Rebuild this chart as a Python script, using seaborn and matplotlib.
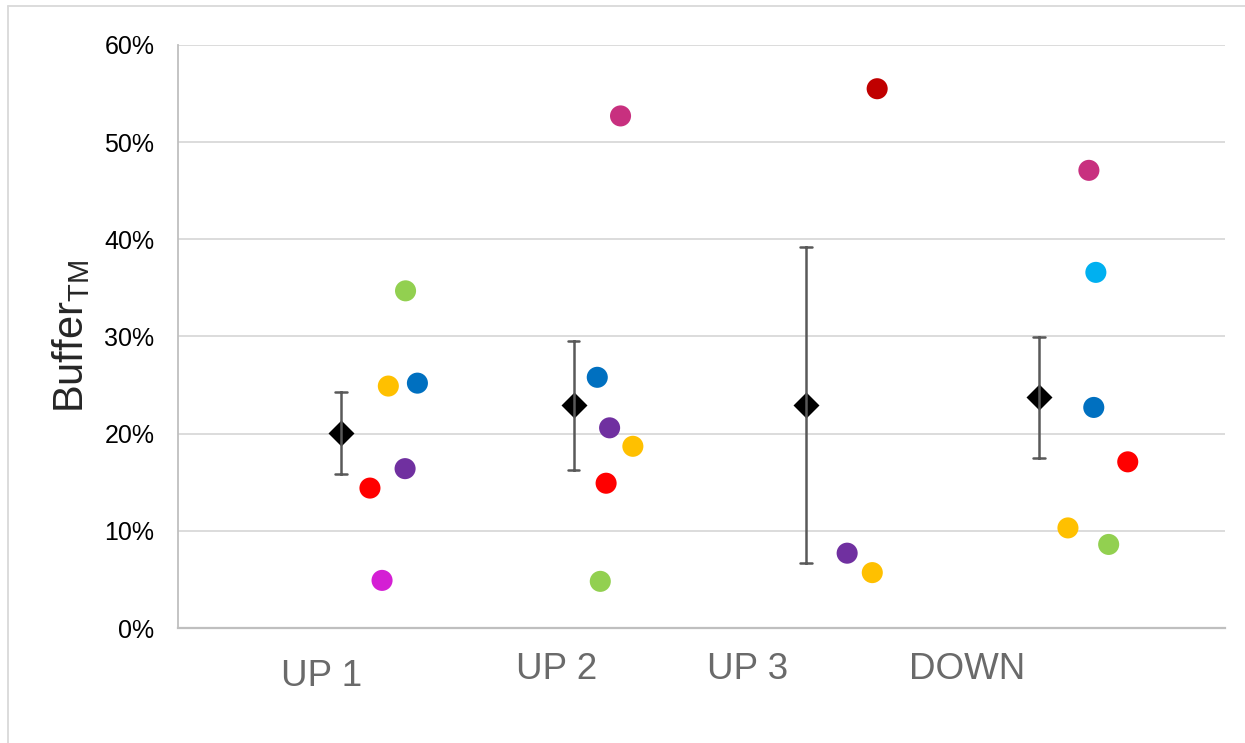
import numpy as np
import pandas as pd
import seaborn as sns
import matplotlib.pyplot as plt
from matplotlib.ticker import PercentFormatter
from matplotlib.lines import Line2D

# groups and their labels
groups = ['UP 1', 'UP 2', 'UP 3', 'DOWN']
group_pos = [1, 2, 3, 4]

# individual points per group (value in %, horizontal offset from group centre, colour name)
up1_vals = [34.7, 24.9, 25.2, 16.4, 14.4, 4.9]
up1_offs = [0.278, 0.204, 0.329, 0.276, 0.125, 0.177]
up1_cols = ['green', 'yellow', 'blue', 'purple', 'red', 'magenta']

up2_vals = [52.7, 25.8, 20.6, 18.7, 14.9, 4.8]
up2_offs = [0.202, 0.102, 0.155, 0.255, 0.140, 0.115]
up2_cols = ['pink', 'blue', 'purple', 'yellow', 'red', 'green']

up3_vals = [55.5, 7.7, 5.7]
up3_offs = [0.305, 0.176, 0.284]
up3_cols = ['darkred', 'purple', 'yellow']

down_vals = [47.1, 36.6, 22.7, 17.1, 10.3, 8.6]
down_offs = [0.215, 0.245, 0.236, 0.382, 0.125, 0.300]
down_cols = ['pink', 'cyan', 'blue', 'red', 'yellow', 'green']

palette = {
    'green': '#92D050', 'yellow': '#FFC000', 'blue': '#0070C0',
    'purple': '#7030A0', 'red': '#FF0000', 'magenta': '#D41FD4',
    'pink': '#C8307F', 'darkred': '#C00000', 'cyan': '#00B0F0',
}

rows = []
for g, p, vals, offs, cols in zip(groups, group_pos,
                                  [up1_vals, up2_vals, up3_vals, down_vals],
                                  [up1_offs, up2_offs, up3_offs, down_offs],
                                  [up1_cols, up2_cols, up3_cols, down_cols]):
    for v, o, c in zip(vals, offs, cols):
        rows.append({'group': g, 'pos': p, 'xpos': p + o, 'value': v, 'color': c})
df = pd.DataFrame(rows)

sns.set_style('white')
plt.rcParams['font.family'] = ['Liberation Sans', 'DejaVu Sans']
plt.rcParams['mathtext.fontset'] = 'custom'
plt.rcParams['mathtext.rm'] = 'Liberation Sans'

fig = plt.figure(figsize=(12.45, 7.43), dpi=100)
ax = fig.add_axes([178 / 1245, 1 - 628 / 743, (1225 - 178) / 1245, (628 - 45) / 743])

ax.set_axisbelow(True)
ax.yaxis.grid(True, color='#D9D9D9', linewidth=1.3)
ax.xaxis.grid(False)

# mean +/- standard error of each group
sns.pointplot(data=df, x='pos', y='value', native_scale=True, errorbar='se',
              color='black', marker='D', linestyle='none', markersize=11,
              capsize=0.05, err_kws={'color': '#595959', 'linewidth': 1.8},
              ax=ax, zorder=3)

sns.scatterplot(data=df, x='xpos', y='value', hue='color', palette=palette,
                s=230, linewidth=0, legend=False, ax=ax, zorder=4)

ax.set_ylim(0, 60)
ax.set_xlim(0.3, 4.8)
ax.set_yticks(np.arange(0, 61, 10))
ax.yaxis.set_major_formatter(PercentFormatter(100, decimals=0))
ax.tick_params(axis='y', length=0, labelsize=18, pad=17, labelcolor='#000000')
ax.set_xticks([])
ax.set_xlabel('')
ax.set_ylabel('Buffer$_\\mathregular{TM}$', fontsize=30, labelpad=9)

for s in ['top', 'right']:
    ax.spines[s].set_visible(False)
ax.spines['left'].set_color('#BFBFBF')
ax.spines['left'].set_linewidth(1.3)
ax.spines['bottom'].set_color('#BFBFBF')
ax.spines['bottom'].set_linewidth(1.6)

# category labels placed as free text boxes
label_x = [0.916, 1.927, 2.747, 3.69]
label_y = [-5.0, -4.3, -4.3, -4.3]
for name, lx, ly in zip(groups, label_x, label_y):
    ax.text(lx, ly, name, ha='center', va='center', fontsize=26.5,
            color='#6A6A6A', clip_on=False)

# chart area border
fig.add_artist(Line2D([8 / 1245, 8 / 1245], [0, 1 - 6 / 743],
                      color='#D9D9D9', linewidth=1.3, transform=fig.transFigure))
fig.add_artist(Line2D([8 / 1245, 1], [1 - 6 / 743, 1 - 6 / 743],
                      color='#D9D9D9', linewidth=1.3, transform=fig.transFigure))

fig.savefig('out.png', dpi=100)
